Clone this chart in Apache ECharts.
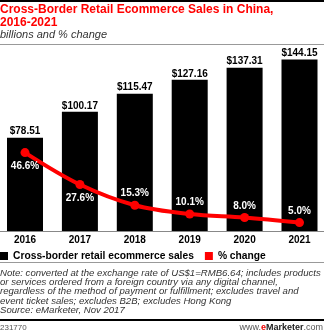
<!DOCTYPE html>
<html>
<head>
<meta charset="utf-8">
<script src="https://cdn.jsdelivr.net/npm/echarts@6/dist/echarts.min.js"></script>
<style>
html,body{margin:0;padding:0;background:#fff;}
#c{width:324px;height:336px;}
</style>
</head>
<body>
<div id="c"></div>
<script>
var years = ['2016', '2017', '2018', '2019', '2020', '2021'];
var sales = [78.51, 100.17, 115.47, 127.16, 137.31, 144.15];
var pctChange = [46.6, 27.6, 15.3, 10.1, 8.0, 5.0];
var noteLines = [
  'Note: converted at the exchange rate of US$1=RMB6.64; includes products',
  'or services ordered from a foreign country via any digital channel,',
  'regardless of the method of payment or fulfillment; excludes travel and',
  'event ticket sales; excludes B2B; excludes Hong Kong',
  'Source: eMarketer, Nov 2017'
];

var FONT = '"Liberation Sans", Arial, sans-serif';
var chart = echarts.init(document.getElementById('c'), null, {renderer: 'canvas'});

var pctData = pctChange.map(function (v, i) {
  var below = i < 2;
  return {
    value: v,
    label: {position: below ? 'bottom' : 'top', distance: below ? 4 : 2}
  };
});

var graphics = [
  {type: 'rect', shape: {x: 0, y: 0, width: 324, height: 2}, style: {fill: '#000'}},
  {type: 'rect', shape: {x: 0, y: 44, width: 324, height: 1}, style: {fill: '#999'}},
  {type: 'rect', shape: {x: 0, y: 262, width: 324, height: 1}, style: {fill: '#999'}},
  {type: 'rect', shape: {x: 0, y: 319, width: 324, height: 2}, style: {fill: '#000'}},
  {type: 'text', left: 0, top: 29, style: {text: 'billions and % change', font: 'italic 11px ' + FONT, fill: '#333'}},
  {type: 'text', left: 0, top: 324, style: {text: '231770', font: '8px ' + FONT, fill: '#555'}},
  {type: 'text', right: 1, top: 323, style: {
    text: '{a|www.}{b|e}{c|Marketer}{a|.com}',
    rich: {
      a: {font: '9px ' + FONT, fill: '#555'},
      b: {font: 'bold 9px ' + FONT, fill: '#e00'},
      c: {font: 'bold 9px ' + FONT, fill: '#222'}
    }
  }}
];
noteLines.forEach(function (t, i) {
  graphics.push({type: 'text', left: 0, top: 268 + i * 9.3, style: {text: t, font: 'italic 9.6px ' + FONT, fill: '#333'}});
});

chart.setOption({
  animation: false,
  textStyle: {fontFamily: FONT},
  title: {
    text: 'Cross-Border Retail Ecommerce Sales in China,\n2016-2021',
    left: 0, top: 3, padding: 0,
    textStyle: {fontFamily: FONT, fontWeight: 'bold', fontSize: 12, color: '#f00', lineHeight: 13}
  },
  legend: {
    left: 0, top: 251, padding: 0,
    itemWidth: 8, itemHeight: 8, itemGap: 11,
    icon: 'rect',
    textStyle: {fontFamily: FONT, fontWeight: 'bold', fontSize: 10.27, color: '#000'},
    data: ['Cross-border retail ecommerce sales', '% change']
  },
  grid: {left: -2.45, right: -2.95, top: 52.6, bottom: 105, outerBoundsMode: 'none', containLabel: false},
  xAxis: {
    type: 'category',
    data: years,
    axisLine: {show: false},
    axisTick: {show: false},
    axisLabel: {fontFamily: FONT, fontWeight: 'bold', fontSize: 10, color: '#000', margin: 4}
  },
  yAxis: [
    {type: 'value', min: 0, max: 150, show: false, splitLine: {show: false}},
    {type: 'value', min: 0, max: 106, show: false, splitLine: {show: false}}
  ],
  graphic: graphics.concat([
    {type: 'rect', shape: {x: 0, y: 231, width: 324, height: 1}, style: {fill: '#888'}, z: 10}
  ]),
  series: [
    {
      name: 'Cross-border retail ecommerce sales',
      type: 'bar',
      data: sales,
      barWidth: 36,
      itemStyle: {color: '#000'},
      label: {
        show: true, position: 'top', distance: 1,
        fontFamily: FONT, fontWeight: 'bold', fontSize: 10, color: '#000',
        formatter: function (p) { return '$' + p.value.toFixed(2); }
      }
    },
    {
      name: '% change',
      type: 'line',
      yAxisIndex: 1,
      data: pctData,
      smooth: 0.35,
      symbol: 'circle',
      symbolSize: 9,
      lineStyle: {color: '#f00', width: 4},
      itemStyle: {color: '#f00'},
      label: {
        show: true,
        fontFamily: FONT, fontWeight: 'bold', fontSize: 10, color: '#fff',
        formatter: function (p) { return p.value.toFixed(1) + '%'; }
      },
      z: 5
    }
  ]
});
</script>
</body>
</html>
